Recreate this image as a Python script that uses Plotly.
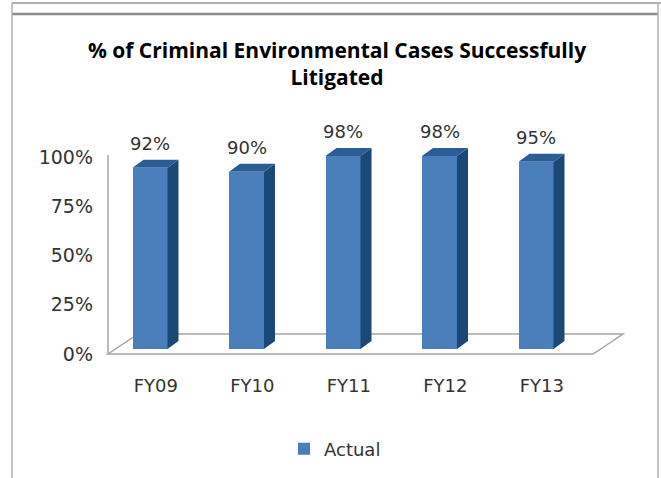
import plotly.graph_objects as go

# ---- data ----
categories = ["FY09", "FY10", "FY11", "FY12", "FY13"]
actual = [0.92, 0.90, 0.98, 0.98, 0.95]
labels = ["92%", "90%", "98%", "98%", "95%"]
y_ticks = [0, 0.25, 0.5, 0.75, 1.0]
y_ticktext = ["0%", "25%", "50%", "75%", "100%"]

# ---- geometry (pixels) ----
W, H = 661, 478
L, R, T, B = 100, 31, 140, 119
PLOT_W = W - L - R
PLOT_H = H - T - B
X_UNIT = 96.5          # px per category
Y_UNIT = 197.0         # px per 100%
X0_PX = 150            # px of first category
Y0_PX = 349            # px of value 0

x_range = [(L - X0_PX) / X_UNIT, (W - R - X0_PX) / X_UNIT]
y_range = [(Y0_PX - (H - B)) / Y_UNIT, (Y0_PX - T) / Y_UNIT]

xs = list(range(len(categories)))
bar_w = 35 / X_UNIT
dx = 11 / X_UNIT
dy = 8 / Y_UNIT

FRONT = "#4a7ebb"
SIDE = "#1b4877"
TOP = "#2c5c95"
GRID = "#a6a6a6"
TEXT = "#333333"

fig = go.Figure()
fig.add_trace(go.Bar(
    x=xs, y=actual, width=bar_w, name="Actual",
    marker=dict(color=FRONT, line=dict(width=0)),
    showlegend=True,
))

shapes = []
# floor (below bars)
fx0, fx1 = (108 - X0_PX) / X_UNIT, (593 - X0_PX) / X_UNIT
fdx, fdy = 30 / X_UNIT, 20 / Y_UNIT
fy = (Y0_PX - 354) / Y_UNIT
floor_path = (f"M{fx0},{fy} L{fx1},{fy} L{fx1+fdx},{fy+fdy} "
              f"L{fx0+fdx},{fy+fdy} Z")
shapes.append(dict(type="path", path=floor_path, xref="x", yref="y",
                   line=dict(color=GRID, width=1.5), layer="below"))
wall_top = (Y0_PX - 155) / Y_UNIT
shapes.append(dict(type="line", x0=fx0, x1=fx0, y0=fy, y1=wall_top,
                   xref="x", yref="y", line=dict(color=GRID, width=1.5),
                   layer="below"))

# 3D faces for bars
for x, v in zip(xs, actual):
    xl, xr = x - bar_w / 2, x + bar_w / 2
    side = f"M{xr},0 L{xr+dx},{dy} L{xr+dx},{v+dy} L{xr},{v} Z"
    top = f"M{xl},{v} L{xl+dx},{v+dy} L{xr+dx},{v+dy} L{xr},{v} Z"
    shapes.append(dict(type="path", path=side, xref="x", yref="y",
                       fillcolor=SIDE, line=dict(width=0)))
    shapes.append(dict(type="path", path=top, xref="x", yref="y",
                       fillcolor=TOP, line=dict(width=0)))

# outer frame (decoration)
def px_x(p):
    return (p - L) / PLOT_W

def px_y(p):
    return (H - B - p) / PLOT_H

shapes.append(dict(type="line", xref="paper", yref="paper",
                   x0=px_x(12), x1=px_x(661), y0=px_y(3), y1=px_y(3),
                   line=dict(color="#b0b0b0", width=2)))
shapes.append(dict(type="line", xref="paper", yref="paper",
                   x0=px_x(12), x1=px_x(658), y0=px_y(14), y1=px_y(14),
                   line=dict(color="#8c8c8c", width=2.5)))
shapes.append(dict(type="line", xref="paper", yref="paper",
                   x0=px_x(12), x1=px_x(12), y0=px_y(3), y1=px_y(478),
                   line=dict(color="#b0b0b0", width=1.5)))
shapes.append(dict(type="line", xref="paper", yref="paper",
                   x0=px_x(658), x1=px_x(658), y0=px_y(3), y1=px_y(478),
                   line=dict(color="#b0b0b0", width=1.5)))

annotations = []
for x, v, t in zip(xs, actual, labels):
    annotations.append(dict(x=x, y=v, text=t, showarrow=False,
                            xref="x", yref="y", yanchor="bottom",
                            yshift=12,
                            font=dict(family="DejaVu Sans", size=18, color=TEXT)))

fig.update_layout(
    width=W, height=H,
    margin=dict(l=L, r=R, t=T, b=B, autoexpand=False),
    paper_bgcolor="white", plot_bgcolor="white",
    title=dict(text="% of Criminal Environmental Cases Successfully<br>Litigated",
               x=337 / W, xanchor="center", xref="container",
               y=1 - 58 / H, yanchor="middle",
               font=dict(family="Open Sans", size=21, color="#000000", weight="bold")),
    shapes=shapes,
    annotations=annotations,
    xaxis=dict(range=x_range, tickvals=[x + 0.06 for x in xs], ticktext=categories,
               showgrid=False, zeroline=False, showline=False, ticks="",
               ticklabelstandoff=14,
               tickfont=dict(family="DejaVu Sans", size=18, color=TEXT),
               fixedrange=True),
    yaxis=dict(range=y_range, tickvals=y_ticks, ticktext=y_ticktext,
               showgrid=False, zeroline=False, showline=False, ticks="",
               ticklabelstandoff=6, ticklabelshift=5,
               tickfont=dict(family="DejaVu Sans", size=19, color=TEXT),
               fixedrange=True),
    legend=dict(orientation="h", x=px_x(335), xanchor="center",
                y=px_y(449), yanchor="middle",
                font=dict(family="DejaVu Sans", size=18, color=TEXT),
                bgcolor="rgba(0,0,0,0)"),
    bargap=0,
)

fig.write_html("out.html",
               config={"displayModeBar": False},
               post_script="document.body.style.margin='0';document.body.style.overflow='hidden';")
